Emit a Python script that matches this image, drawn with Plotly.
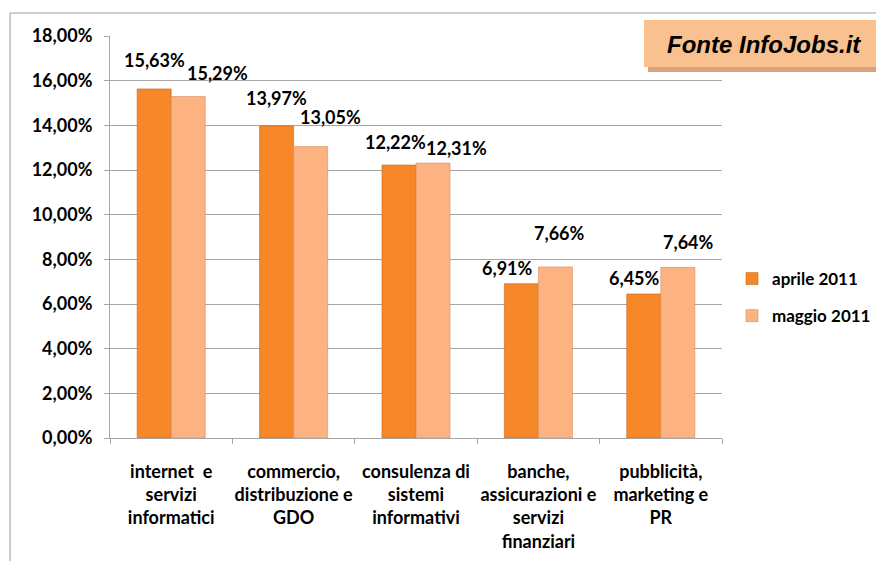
import plotly.graph_objects as go

categories = [
    "internet  e<br>servizi<br>informatici",
    "commercio,<br>distribuzione e<br>GDO",
    "consulenza di<br>sistemi<br>informativi",
    "banche,<br>assicurazioni e<br>servizi<br>finanziari",
    "pubblicità,<br>marketing e<br>PR",
]
aprile_2011 = [15.63, 13.97, 12.22, 6.91, 6.45]
maggio_2011 = [15.29, 13.05, 12.31, 7.66, 7.64]
series_names = ["aprile 2011", "maggio 2011"]
y_ticks = [0, 2, 4, 6, 8, 10, 12, 14, 16, 18]
y_tick_labels = [f"{v:.2f}".replace(".", ",") + "%" for v in y_ticks]

# style: label nudges in pixels (dx from bar centre, dy above bar top)
label_nudge = {
    0: [(0, 29), (0, 28), (-4, 23), (-14, 16), (-9, 16)],
    1: [(29, 24), (20, 30), (23, 15), (4, 34), (11, 25)],
}
BAR_HALF = 17
FONT = "Lato, 'Open Sans', sans-serif"
colors = ["#F6882A", "#FDB381"]
edges = ["#C8651A", "#D98C5E"]

OFF = 8  # page body margin
W, H = 884 - 2 * OFF, 569 - 2 * OFF
# plot area in page coordinates: x 110..722, y 36..438
L = 110 - OFF
T = 36 - OFF
R = W - (722 - OFF)
B = H - (438 - OFF)

pw = W - L - R
ph = H - T - B
def px(x):
    return (x - OFF - L) / pw
def py(y):
    return (H - B - (y - OFF)) / ph

fig = go.Figure()
for i, (name, vals) in enumerate(zip(series_names, [aprile_2011, maggio_2011])):
    fig.add_trace(go.Bar(
        x=categories, y=vals, name=name,
        marker=dict(color=colors[i], line=dict(color=edges[i], width=0.6)),
        legendgroup=name,
    ))
    for j, (c, v) in enumerate(zip(categories, vals)):
        dx, dy = label_nudge[i][j]
        fig.add_annotation(
            x=c, y=v, xref="x", yref="y",
            text=f"{v:.2f}".replace(".", ",") + "%",
            showarrow=False, xanchor="center", yanchor="middle",
            xshift=(-BAR_HALF if i == 0 else BAR_HALF) + dx, yshift=dy,
            font=dict(family=FONT, size=18, color="#000000", weight="bold"),
        )

# outer frame
fig.add_shape(type="rect", xref="paper", yref="paper",
              x0=px(10), x1=px(900), y0=py(600), y1=py(13),
              line=dict(color="#9C9C9C", width=1), fillcolor="rgba(0,0,0,0)", layer="below")
# source box with shadow
fig.add_shape(type="rect", xref="paper", yref="paper",
              x0=px(648), x1=px(900), y0=py(72), y1=py(24),
              line=dict(width=0), fillcolor="#D7A27E")
fig.add_shape(type="rect", xref="paper", yref="paper",
              x0=px(644), x1=px(900), y0=py(67), y1=py(20),
              line=dict(width=0), fillcolor="#F9C090")
fig.add_annotation(xref="paper", yref="paper", x=px(764), y=py(45),
                   text="<i><b>Fonte InfoJobs.it</b></i>", showarrow=False,
                   xanchor="center", yanchor="middle",
                   font=dict(family="Liberation Sans, Arial, sans-serif", size=24, color="#000000"))

fig.update_layout(
    width=W, height=H,
    margin=dict(l=L, r=R, t=T, b=B, autoexpand=False),
    paper_bgcolor="white", plot_bgcolor="white",
    barmode="group", bargap=0.444, bargroupgap=0,
    showlegend=True,
    legend=dict(x=px(732), y=py(261), xanchor="left", yanchor="top",
                traceorder="grouped", tracegroupgap=12,
                font=dict(family=FONT, size=17, color="#000000", weight="bold"),
                bgcolor="rgba(0,0,0,0)"),
    font=dict(family=FONT, color="#000000"),
)
fig.update_yaxes(
    range=[0, 18], tickvals=y_ticks, ticktext=y_tick_labels,
    showgrid=True, gridcolor="#A6A6A6", gridwidth=1,
    showline=True, linecolor="#A6A6A6", linewidth=1,
    ticks="outside", ticklen=5, tickcolor="#A6A6A6",
    ticklabelstandoff=8, zeroline=False,
    tickfont=dict(family=FONT, size=18, color="#000000", weight="bold"),
)
fig.update_xaxes(
    showline=True, linecolor="#A6A6A6", linewidth=1,
    ticks="outside", ticklen=5, tickcolor="#A6A6A6", tickson="boundaries",
    ticklabelstandoff=17, tickangle=0,
    tickfont=dict(family=FONT, size=18, color="#000000", weight="bold"),
)

fig.write_html("out.html")
